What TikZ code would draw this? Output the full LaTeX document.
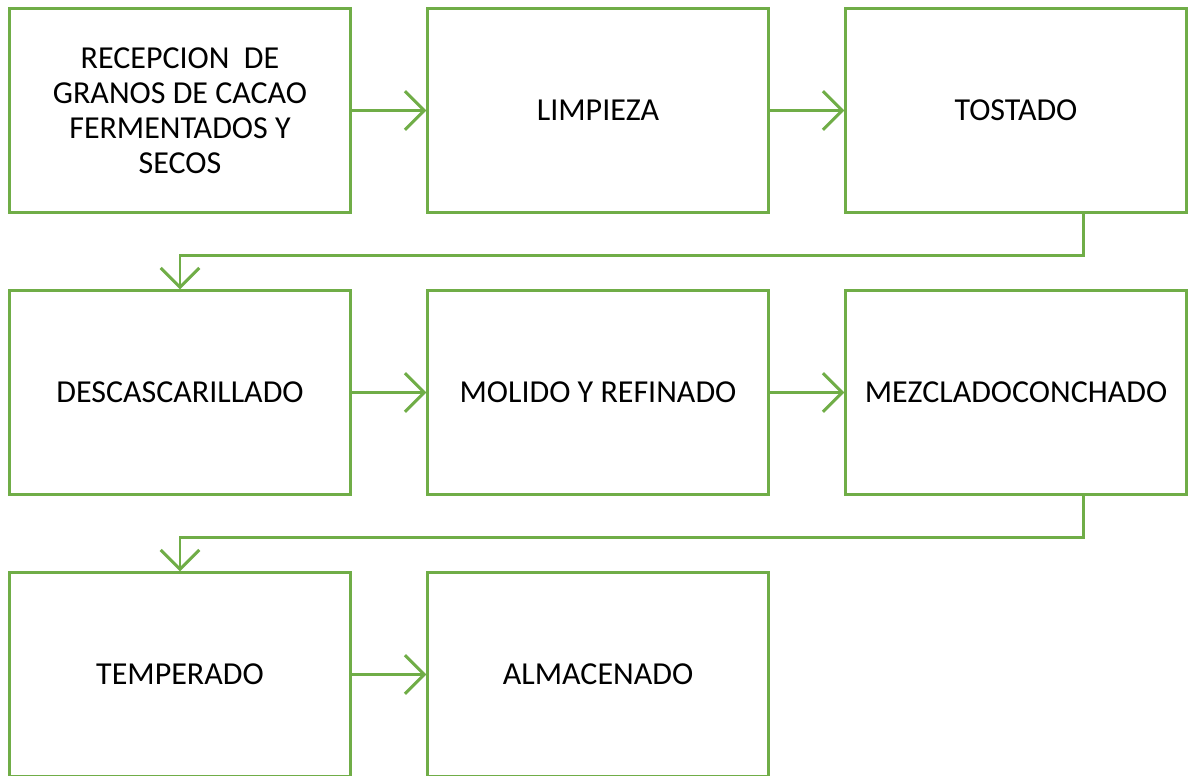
\documentclass[tikz,border=0pt]{standalone}
\usepackage{fontspec}
\setmainfont{Carlito}
\usetikzlibrary{arrows.meta}
\definecolor{stepgreen}{HTML}{70AD47}
\begin{document}
\begin{tikzpicture}[x=0.01cm,y=-0.01cm,
    stepbox/.style={draw=stepgreen, line width=0.85pt, rectangle,
        minimum width=3.4cm, minimum height=2.03cm, align=center,
        font=\fontsize{9.1}{9.9}\selectfont},
    flow/.style={draw=stepgreen, line width=0.85pt,
        -{Straight Barb[length=5.5pt,width=11pt]}}]
        \useasboundingbox (0,0) rectangle (1189,775);
        \clip (0,0) rectangle (1189,775);

        % Process steps
        \foreach \name/\x/\y/\label in {rec/180/110.5/{RECEPCION~ DE\\GRANOS DE CACAO\\FERMENTADOS Y\\SECOS},
                                       lim/598/110.5/LIMPIEZA, tos/1016/110.5/TOSTADO,
                                       des/180/392.5/DESCASCARILLADO, mol/598/392.5/MOLIDO Y REFINADO,
                                       mez/1016/392.5/MEZCLADOCONCHADO,
                                       tem/180/674.5/TEMPERADO, alm/598/674.5/ALMACENADO} {
            \node[stepbox] (\name) at (\x,\y) {\label};
        }

        % Arrows within a row
        \draw[flow] (rec.east) -- (lim.west);
        \draw[flow] (lim.east) -- (tos.west);
        \draw[flow] (des.east) -- (mol.west);
        \draw[flow] (mol.east) -- (mez.west);
        \draw[flow] (tem.east) -- (alm.west);

        % Arrows to the next row
        \draw[flow] ([xshift=0.67cm]tos.south) -- ++(0,42) -| (des.north);
        \draw[flow] ([xshift=0.67cm]mez.south) -- ++(0,42) -| (tem.north);
\end{tikzpicture}
\end{document}
